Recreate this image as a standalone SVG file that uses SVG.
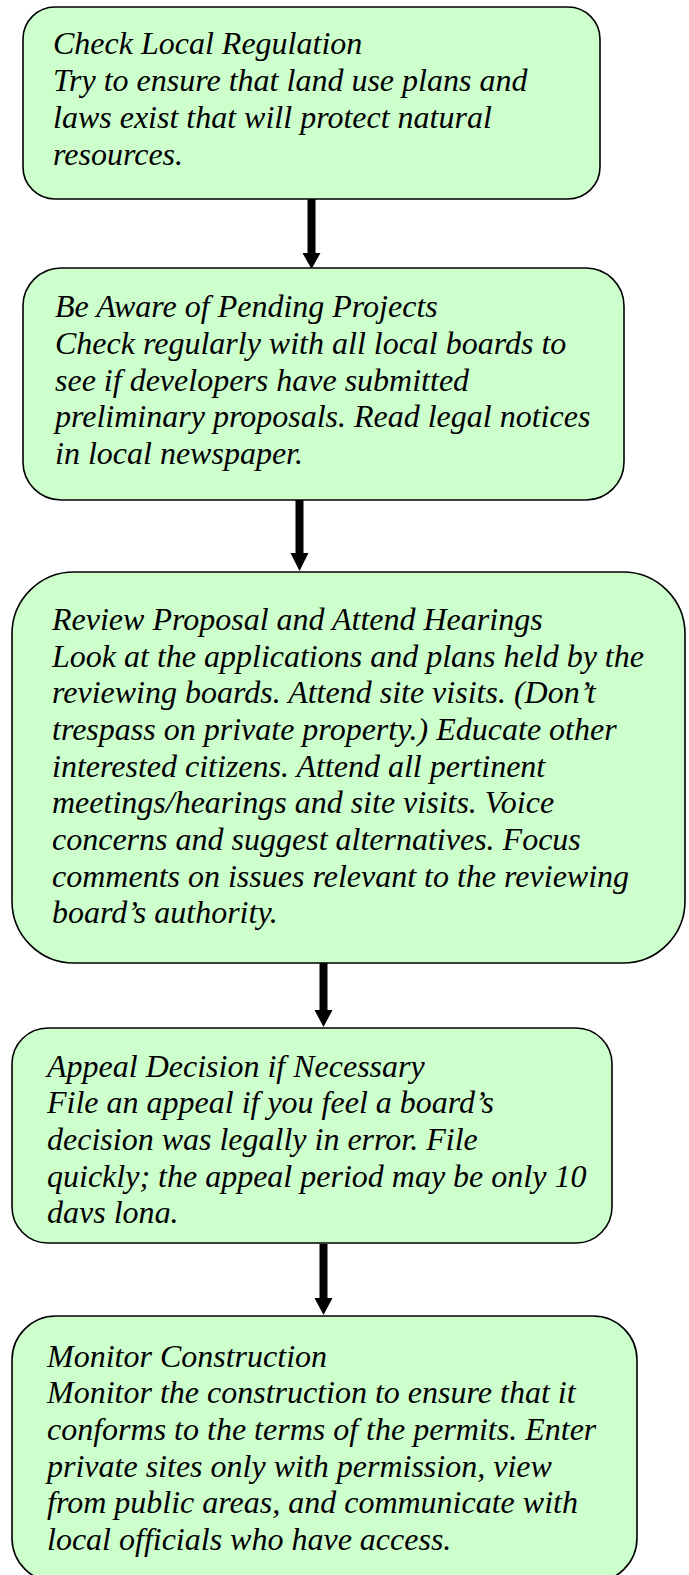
<svg xmlns="http://www.w3.org/2000/svg" width="689" height="1575" viewBox="0 0 689 1575">
<style>
.box{fill:#CCFFCC;stroke:#000;stroke-width:1.6}
.shaft{fill:#000}
</style>
<defs>
<clipPath id="clip4"><rect x="0" y="1028" width="689" height="195"/></clipPath>
</defs>
<rect width="689" height="1575" fill="#fff"/>
<g id="connectors">
<rect class="shaft" x="307.5" y="199" width="8" height="55"/>
<polygon class="shaft" points="302.5,253 320.5,253 311.5,269"/>
<rect class="shaft" x="295.5" y="500" width="8" height="54"/>
<polygon class="shaft" points="290.5,553 308.5,553 299.5,571"/>
<rect class="shaft" x="319.5" y="956" width="8" height="55"/>
<polygon class="shaft" points="314.5,1010 332.5,1010 323.5,1027"/>
<rect class="shaft" x="319.5" y="1244" width="8" height="55"/>
<polygon class="shaft" points="314.5,1298 332.5,1298 323.5,1315"/>
</g>
<g id="node1">
<rect class="box" x="23" y="7" width="577" height="192" rx="32" ry="32"/>
<g font-family="Liberation Serif" font-style="italic" font-size="32" fill="#000">
<text x="53" y="54">Check Local Regulation</text>
<text x="53" y="91">Try to ensure that land use plans and</text>
<text x="53" y="128">laws exist that will protect natural</text>
<text x="53" y="165">resources.</text>
</g>
</g>
<g id="node2">
<rect class="box" x="23" y="268" width="601" height="232" rx="38" ry="38"/>
<g font-family="Liberation Serif" font-style="italic" font-size="32" fill="#000">
<text x="55" y="317">Be Aware of Pending Projects</text>
<text x="55" y="354">Check regularly with all local boards to</text>
<text x="55" y="391">see if developers have submitted</text>
<text x="55" y="427">preliminary proposals. Read legal notices</text>
<text x="55" y="464">in local newspaper.</text>
</g>
</g>
<g id="node3">
<rect class="box" x="12" y="572" width="673" height="391" rx="62" ry="62"/>
<g font-family="Liberation Serif" font-style="italic" font-size="32" fill="#000">
<text x="52" y="630">Review Proposal and Attend Hearings</text>
<text x="52" y="667">Look at the applications and plans held by the</text>
<text x="52" y="703">reviewing boards. Attend site visits. (Don’t</text>
<text x="52" y="740">trespass on private property.) Educate other</text>
<text x="52" y="777">interested citizens. Attend all pertinent</text>
<text x="52" y="813">meetings/hearings and site visits. Voice</text>
<text x="52" y="850">concerns and suggest alternatives. Focus</text>
<text x="52" y="887">comments on issues relevant to the reviewing</text>
<text x="52" y="923">board’s authority.</text>
</g>
</g>
<g id="node4">
<rect class="box" x="12" y="1028" width="600" height="215" rx="36" ry="36"/>
<g clip-path="url(#clip4)" font-family="Liberation Serif" font-style="italic" font-size="32" fill="#000">
<text x="47" y="1077">Appeal Decision if Necessary</text>
<text x="47" y="1113">File an appeal if you feel a board’s</text>
<text x="47" y="1150">decision was legally in error. File</text>
<text x="47" y="1187">quickly; the appeal period may be only 10</text>
<text x="47" y="1223">days long.</text>
</g>
</g>
<g id="node5">
<rect class="box" x="12" y="1316" width="625" height="266" rx="44" ry="44"/>
<g font-family="Liberation Serif" font-style="italic" font-size="32" fill="#000">
<text x="47" y="1367">Monitor Construction</text>
<text x="47" y="1403">Monitor the construction to ensure that it</text>
<text x="47" y="1440">conforms to the terms of the permits. Enter</text>
<text x="47" y="1477">private sites only with permission, view</text>
<text x="47" y="1513">from public areas, and communicate with</text>
<text x="47" y="1550">local officials who have access.</text>
</g>
</g>
</svg>
